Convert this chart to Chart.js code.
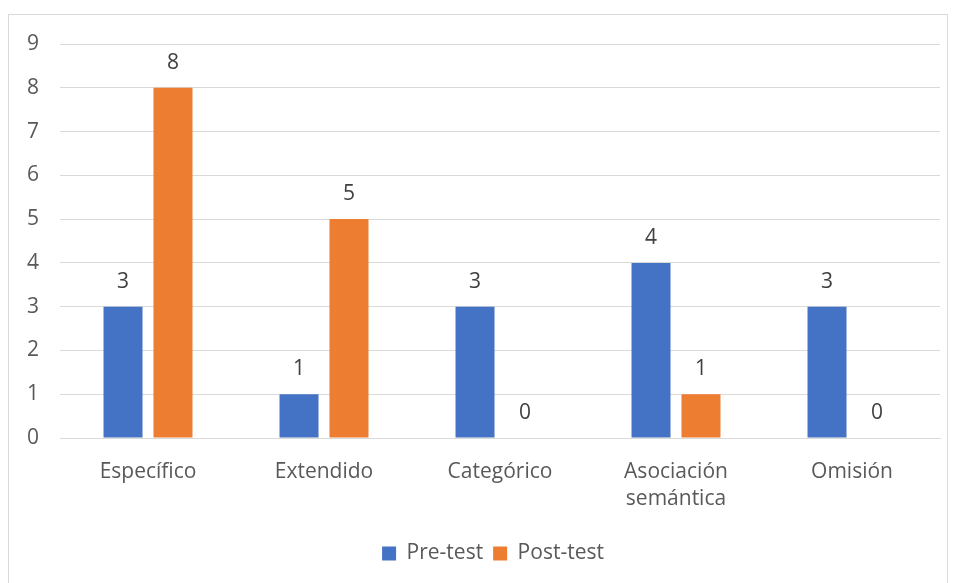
<!DOCTYPE html>
<html>
<head>
<meta charset="utf-8">
<script src="https://cdn.jsdelivr.net/npm/chart.js@4.4.0/dist/chart.umd.min.js"></script>
<style>
  html, body { margin: 0; padding: 0; background: #ffffff; }
  #wrap { width: 956px; height: 583px; position: relative; }
</style>
</head>
<body>
<div id="wrap"><canvas id="c" width="956" height="583"></canvas></div>
<script>
// Response types and counts before / after the intervention
const categories = ['Específico', 'Extendido', 'Categórico', ['Asociación', 'semántica'], 'Omisión'];
const preTest = [3, 1, 3, 4, 3];
const postTest = [8, 5, 0, 1, 0];
const yTicks = [0, 1, 2, 3, 4, 5, 6, 7, 8, 9];

const FONT = "'Open Sans', 'Noto Sans', sans-serif";
const SIZE = 21;

// Light frame around the chart
const framePlugin = {
  id: 'frame',
  beforeDraw(chart) {
    const ctx = chart.ctx;
    ctx.save();
    ctx.fillStyle = '#ffffff';
    ctx.fillRect(0, 0, chart.width, chart.height);
    ctx.strokeStyle = '#d9d9d9';
    ctx.lineWidth = 1;
    ctx.strokeRect(8.5, 14.5, 939, 600);
    ctx.restore();
  }
};

// Centre the legend under the plot area rather than the whole canvas
const legendShift = {
  id: 'legendShift',
  afterLayout(chart) {
    const lg = chart.legend;
    if (!lg) return;
    const dx = (chart.chartArea.left + chart.chartArea.right) / 2 - (lg.left + lg.right) / 2 + 23 - 30;
    lg.left += dx;
    lg.right += dx;
  }
};

// Value labels above each bar
const valueLabels = {
  id: 'valueLabels',
  afterDatasetsDraw(chart) {
    const ctx = chart.ctx;
    ctx.save();
    ctx.font = SIZE + 'px ' + FONT;
    ctx.fillStyle = '#404040';
    ctx.textAlign = 'center';
    ctx.textBaseline = 'middle';
    chart.data.datasets.forEach((ds, i) => {
      chart.getDatasetMeta(i).data.forEach((bar, j) => {
        ctx.fillText(String(ds.data[j]), bar.x, bar.y - 25);
      });
    });
    ctx.restore();
  }
};

new Chart(document.getElementById('c'), {
  type: 'bar',
  data: {
    labels: categories,
    datasets: [
      { label: 'Pre-test', data: preTest, backgroundColor: '#4472C4' },
      { label: 'Post-test', data: postTest, backgroundColor: '#ED7D31' }
    ]
  },
  options: {
    responsive: false,
    animation: false,
    layout: { padding: { top: 44, right: 16, left: 0, bottom: 9 } },
    datasets: { bar: { categoryPercentage: 0.568, barPercentage: 0.78 } },
    scales: {
      x: {
        grid: { display: false, drawTicks: false },
        border: { display: true, color: '#d9d9d9', width: 1 },
        ticks: { color: '#595959', font: { family: FONT, size: SIZE, lineHeight: 1.3 }, padding: 20, maxRotation: 0, autoSkip: false },
        afterFit(scale) { scale.height = 95; }
      },
      y: {
        min: 0, max: 9,
        afterBuildTicks(scale) { scale.ticks = yTicks.map(v => ({ value: v })); },
        grid: { color: '#d9d9d9', drawTicks: false },
        border: { display: false },
        ticks: { color: '#595959', font: { family: FONT, size: SIZE }, padding: 21 },
        afterFit(scale) { scale.width = 60; }
      }
    },
    plugins: {
      legend: {
        position: 'bottom',
        labels: {
          color: '#595959',
          font: { family: FONT, size: SIZE },
          boxWidth: 14, boxHeight: 14, padding: 10
        }
      },
      tooltip: { enabled: false }
    }
  },
  plugins: [framePlugin, legendShift, valueLabels]
});
</script>
</body>
</html>
